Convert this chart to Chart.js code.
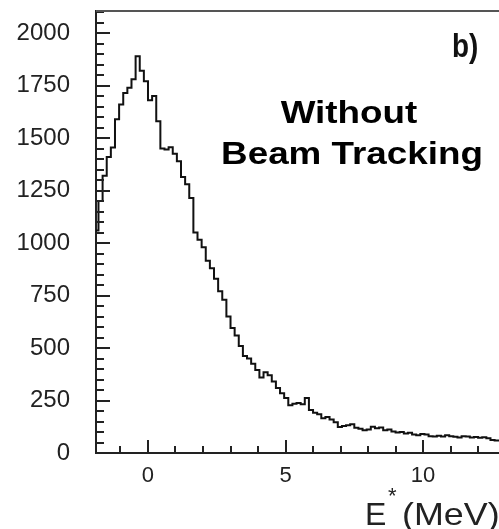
<!DOCTYPE html>
<html><head><meta charset="utf-8">
<script src="https://cdn.jsdelivr.net/npm/chart.js@4/dist/chart.umd.min.js"></script>
<style>html,body{margin:0;padding:0;background:#fff}#wrap{width:499px;height:529px;position:relative}</style>
</head><body><div id="wrap"><canvas id="c"></canvas></div>
<script>
// Histogram: bin left edges start at binStart, fixed width binWidth (MeV)
const binStart = -1.95;
const binWidth = 0.15;
const counts = [
  930, 1060, 1200, 1320, 1410, 1455, 1590, 1660, 1715, 1740,
  1780, 1890, 1820, 1770, 1680, 1700, 1580, 1450, 1445, 1456,
  1425, 1390, 1315, 1280, 1215, 1050, 1015, 980, 915, 880,
  830, 770, 730, 650, 595, 560, 510, 462, 450, 425,
  395, 360, 385, 370, 340, 310, 285, 262, 228, 235,
  238, 232, 262, 205, 192, 185, 165, 172, 160, 146,
  124, 128, 132, 137, 120, 116, 108, 112, 125, 118,
  121, 108, 112, 102, 98, 100, 93, 96, 88, 84,
  90, 88, 80, 79, 82, 78, 85, 80, 77, 74,
  80, 78, 74, 76, 73, 75, 70, 62, 60
];
const xTickValues = [0, 5, 10];
const xTickLabels = ['0', '5', '10'];
const yTickValues = [0, 250, 500, 750, 1000, 1250, 1500, 1750, 2000];
const yTickLabels = ['0', '250', '500', '750', '1000', '1250', '1500', '1750', '2000'];
const xMinorTicks = [-1, 0, 1, 2, 3, 4, 5, 6, 7, 8, 9, 10, 11, 12];
const yMinorStep = 50;
const xRange = [-1.89, 12.76];
const yRange = [0, 2105];

const points = counts.map((c, i) => ({ x: binStart + i * binWidth, y: c }));
points.push({ x: binStart + counts.length * binWidth, y: counts[counts.length - 1] });

const overlay = {
  id: 'overlay',
  afterDraw(chart) {
    const ctx = chart.ctx, xs = chart.scales.x, ys = chart.scales.y, a = chart.chartArea;
    ctx.save();
    ctx.strokeStyle = '#222';
    ctx.lineWidth = 2;
    ctx.beginPath();
    for (let v = yRange[0]; v <= yRange[1]; v += yMinorStep) {
      const py = Math.round(ys.getPixelForValue(v));
      const len = yTickValues.includes(v) ? 14 : 8;
      ctx.moveTo(a.left, py); ctx.lineTo(a.left + len, py);
    }
    xMinorTicks.forEach(v => {
      const px = Math.round(xs.getPixelForValue(v));
      const len = xTickValues.includes(v) ? 13 : 7;
      ctx.moveTo(px, a.bottom); ctx.lineTo(px, a.bottom - len);
    });
    ctx.stroke();
    // top frame
    ctx.strokeStyle = '#555';
    ctx.lineWidth = 2;
    ctx.beginPath();
    ctx.moveTo(a.left, a.top); ctx.lineTo(a.right, a.top);
    ctx.stroke();

    function txt(t, x, y, font, sx, align) {
      ctx.save();
      ctx.font = font;
      ctx.textAlign = align || 'left';
      ctx.textBaseline = 'alphabetic';
      ctx.translate(x, y);
      ctx.scale(sx, 1);
      ctx.fillText(t, 0, 0);
      ctx.restore();
    }
    ctx.fillStyle = '#000';
    txt('Without', 349, 123, 'bold 32px "Liberation Sans", Arial, sans-serif', 1.15, 'center');
    txt('Beam Tracking', 352, 164, 'bold 32px "Liberation Sans", Arial, sans-serif', 1.15, 'center');
    ctx.fillStyle = '#111';
    txt('b)', 452, 57, 'bold 34px "Liberation Sans", Arial, sans-serif', 0.82, 'left');
    ctx.fillStyle = '#222';
    txt('E', 365, 525, '32px "Liberation Sans", Arial, sans-serif', 1.0, 'left');
    txt('*', 388, 503, '22px "Liberation Sans", Arial, sans-serif', 1.0, 'left');
    txt('(MeV)', 402, 525, '32px "Liberation Sans", Arial, sans-serif', 1.12, 'left');
    ctx.restore();
  }
};

new Chart(document.getElementById('c'), {
  type: 'line',
  data: {
    datasets: [{
      data: points,
      stepped: 'after',
      borderColor: '#111',
      borderWidth: 2,
      pointRadius: 0,
      fill: false
    }]
  },
  options: {
    responsive: true,
    maintainAspectRatio: false,
    animation: false,
    layout: { padding: { top: 11, right: 0, left: 0, bottom: 0 } },
    plugins: { legend: { display: false }, tooltip: { enabled: false } },
    scales: {
      x: {
        type: 'linear',
        min: xRange[0], max: xRange[1],
        grid: { display: false },
        border: { display: true, color: '#222', width: 2 },
        afterBuildTicks: s => { s.ticks = xTickValues.map(v => ({ value: v })); },
        afterFit: s => { s.height = 76; s.paddingLeft = 0; s.paddingRight = 0; },
        ticks: {
          callback: (v) => { const i = xTickValues.indexOf(v); return i >= 0 ? xTickLabels[i] : ''; },
          font: { family: '"Liberation Sans", Arial, sans-serif', size: 22 },
          color: '#222', padding: 2, maxRotation: 0, autoSkip: false
        }
      },
      y: {
        type: 'linear',
        min: yRange[0], max: yRange[1],
        grid: { display: false },
        border: { display: true, color: '#222', width: 2 },
        afterBuildTicks: s => { s.ticks = yTickValues.map(v => ({ value: v })); },
        afterFit: s => { s.width = 96; s.paddingTop = 0; s.paddingBottom = 0; },
        ticks: {
          callback: (v) => { const i = yTickValues.indexOf(v); return i >= 0 ? yTickLabels[i] : ''; },
          font: { family: '"Liberation Sans", Arial, sans-serif', size: 24 },
          color: '#222', padding: 18, autoSkip: false
        }
      }
    }
  },
  plugins: [overlay]
});
</script>
</body></html>
